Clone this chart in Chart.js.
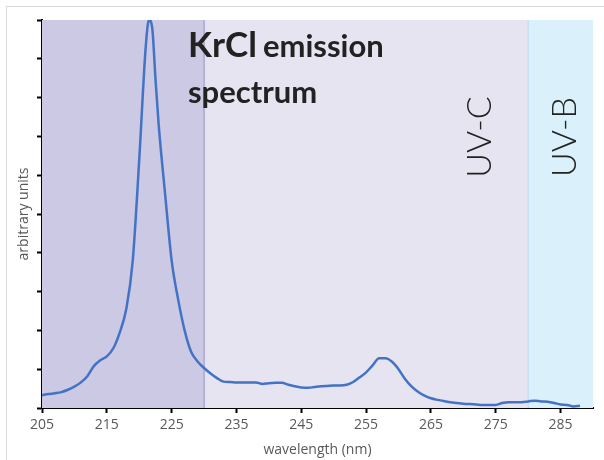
<!DOCTYPE html>
<html>
<head>
<meta charset="utf-8">
<script src="https://cdn.jsdelivr.net/npm/chart.js@4"></script>
<style>
    html, body { margin: 0; padding: 0; background: #fff; }
    #frame {
        position: absolute; left: 6px; top: 6px; width: 700px; height: 600px;
        border-left: 1px solid #d9d9d9; border-top: 1px solid #d9d9d9;
    }
    #wrap { position: absolute; left: 0; top: 0; width: 604px; height: 460px; }
</style>
</head>
<body>
<div id="frame"></div>
<div id="wrap"><canvas id="spectrum"></canvas></div>
<script>
// Data KrCl emission
const wavelengths = [205, 206, 207, 208, 209, 210, 211, 212, 213, 214, 215, 216, 217, 218, 219, 220, 221, 221.5, 222, 222.5, 223, 224, 225, 226, 227, 228, 229, 230, 231, 232, 233, 234, 235, 236, 237, 238, 239, 240, 241, 242, 243, 244, 245, 246, 247, 248, 249, 250, 251, 252, 253, 254, 255, 256, 257, 258, 259, 260, 261, 262, 263, 264, 265, 266, 267, 268, 269, 270, 271, 272, 273, 274, 275, 276, 277, 278, 279, 280, 281, 282, 283, 284, 285, 286, 287, 288];
const intensity = [3.3, 3.6, 3.8, 4.1, 4.7, 5.5, 6.6, 8.2, 10.8, 12.3, 13.3, 15.4, 19.5, 25.5, 38, 64, 93, 100, 98, 85, 73, 55, 38, 28, 20, 14.5, 12, 10.3, 8.9, 7.7, 6.8, 6.7, 6.6, 6.6, 6.6, 6.6, 6.2, 6.4, 6.5, 6.5, 6.0, 5.6, 5.3, 5.2, 5.4, 5.6, 5.7, 5.8, 5.8, 6.0, 6.7, 7.9, 9.2, 11.0, 12.8, 12.8, 11.9, 10.0, 7.5, 5.6, 4.2, 3.2, 2.5, 2.1, 1.8, 1.5, 1.3, 1.1, 1.0, 0.9, 0.8, 0.8, 0.8, 1.3, 1.5, 1.5, 1.5, 1.7, 1.9, 1.7, 1.6, 1.3, 0.9, 0.8, 0.4, 0.6];
const xTicks = [205, 215, 225, 235, 245, 255, 265, 275, 285];

// Pita latar (rentang panjang gelombang)
const bandStart = [205, 230, 280];
const bandEnd = [230, 280, 290];
const bandColors = ['#cbc9e3', '#e6e4f1', '#daf0fa'];
const bandLabels = ['', 'UV-C', 'UV-B'];
const bandLabelX = [0, 272.5, 285.7];

const gray = '#595959';

const bandsPlugin = {
    id: 'bands',
    beforeDatasetsDraw: (chart) => {
        const { ctx, chartArea: { top, bottom }, scales: { x } } = chart;
        ctx.save();
        bandStart.forEach((s, i) => {
            const x0 = x.getPixelForValue(s);
            const x1 = x.getPixelForValue(bandEnd[i]);
            ctx.fillStyle = bandColors[i];
            ctx.fillRect(x0, top, x1 - x0, bottom - top);
        });
        // garis batas pita
        ctx.fillStyle = '#b5b2d5';
        ctx.fillRect(x.getPixelForValue(230) - 1, top, 2, bottom - top);
        ctx.fillStyle = '#bcd9ef';
        ctx.fillRect(x.getPixelForValue(280) - 0.5, top, 1, bottom - top);

        // label UV-C / UV-B
        ctx.fillStyle = '#222';
        ctx.font = '300 34px Lato';
        ctx.textAlign = 'center';
        ctx.textBaseline = 'middle';
        bandLabels.forEach((lbl, i) => {
            if (!lbl) return;
            ctx.save();
            ctx.translate(x.getPixelForValue(bandLabelX[i]), 137);
            ctx.rotate(-Math.PI / 2);
            ctx.fillText(lbl, 0, 0);
            ctx.restore();
        });

        // judul
        ctx.textAlign = 'left';
        ctx.textBaseline = 'alphabetic';
        ctx.fillStyle = '#222';
        ctx.font = 'bold 35px Lato';
        ctx.fillText('KrCl', 188, 57);
        const w = ctx.measureText('KrCl').width + 6;
        ctx.font = 'bold 31px Lato';
        ctx.fillText('emission', 188 + w, 57);
        ctx.fillText('spectrum', 188, 103);
        ctx.restore();
    }
};

const ctx = document.getElementById('spectrum').getContext('2d');
new Chart(ctx, {
    type: 'line',
    plugins: [bandsPlugin],
    data: {
        datasets: [{
            data: wavelengths.map((w, i) => ({ x: w, y: intensity[i] })),
            borderColor: '#4472c4',
            borderWidth: 2.5,
            pointRadius: 0,
            cubicInterpolationMode: 'monotone',
            fill: false
        }]
    },
    options: {
        responsive: true,
        maintainAspectRatio: false,
        animation: false,
        layout: { padding: { left: 0, top: 20, right: 11, bottom: 0 } },
        plugins: { legend: { display: false }, tooltip: { enabled: false } },
        scales: {
            x: {
                type: 'linear',
                min: 205,
                max: 290,
                afterBuildTicks: (s) => { s.ticks = xTicks.map(v => ({ value: v })); },
                afterFit: (s) => { s.height = 52; },
                border: { color: '#000', width: 2 },
                grid: { drawOnChartArea: false, drawTicks: true, tickLength: 5, color: '#000', tickWidth: 2 },
                ticks: { color: gray, font: { family: 'Open Sans', size: 14 }, padding: 4, maxRotation: 0 },
                title: { display: true, text: 'wavelength (nm)', color: gray, font: { family: 'Open Sans', size: 14 }, padding: { top: 0, bottom: 2 } }
            },
            y: {
                min: 0,
                max: 100,
                afterFit: (s) => { s.width = 42; },
                border: { color: '#000', width: 2 },
                grid: { drawOnChartArea: false, drawTicks: true, tickLength: 5, color: '#000', tickWidth: 2 },
                ticks: { display: false, stepSize: 10 },
                title: { display: true, text: 'arbitrary units', color: gray, font: { family: 'Open Sans', size: 14 }, padding: { top: 16, bottom: 0 } }
            }
        }
    }
});
</script>
</body>
</html>
